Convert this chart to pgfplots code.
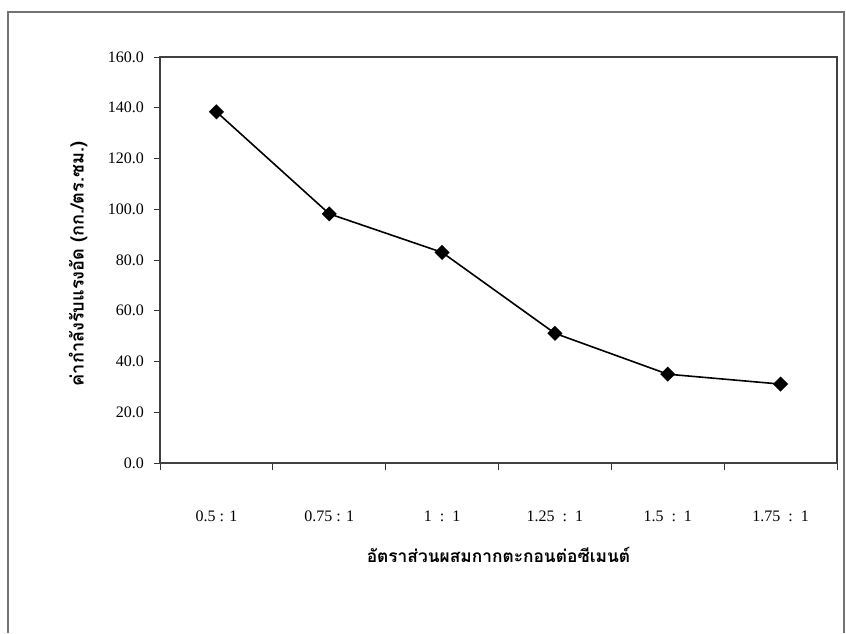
\documentclass[border=0pt]{standalone}
\usepackage{pgfplots}
\pgfplotsset{compat=1.18}
\usepackage{fontspec}
\setmainfont{Liberation Serif}
\newfontfamily\thaifont[Script=Thai]{Loma}
\begin{document}
\begin{tikzpicture}
\useasboundingbox (0,0) rectangle (634.5pt,474.75pt);
\draw[black!55, line width=0.8pt] (6pt,0) -- (6pt,465.75pt) -- (633pt,465.75pt) -- (633pt,0);
\begin{axis}[
  at={(120pt,127.5pt)}, anchor=south west,
  scale only axis, width=507.75pt, height=304.5pt,
  xmin=0.5, xmax=6.5, ymin=0, ymax=160,
  xtick={1,2,3,4,5,6},
  xticklabels={{0.5 : 1},{0.75 : 1},{1~~:~~1},{1.25~~:~~1},{1.5~~:~~1},{1.75~~:~~1}},
  major x tick style={draw=none},
  minor xtick={0.5,1.5,2.5,3.5,4.5,5.5,6.5},
  ytick={0,20,...,160},
  yticklabel={\pgfmathprintnumber[fixed,fixed zerofill,precision=1]{\tick}},
  /pgf/number format/assume math mode=true,
  tick align=outside, tick pos=left,
  major tick length=4.5pt, minor tick length=5.5pt,
  every tick/.style={black!80, line width=0.6pt},
  axis line style={black!75, line width=0.8pt},
  ticklabel style={font=\fontsize{12}{14}\selectfont},
  xticklabel style={yshift=-28pt},
  yticklabel style={xshift=-4pt},
  xlabel={\thaifont\bfseries อัตราส่วนผสมกากตะกอนต่อซีเมนต์},
  ylabel={\thaifont\bfseries ค่ากำลังรับแรงอัด (กก./ตร.ซม.)},
  xlabel style={at={(axis description cs:0.5,-0.227)}, anchor=center, font=\fontsize{13}{15}\selectfont},
  ylabel style={at={(axis description cs:-0.121,0.49)}, anchor=center, rotate=0, font=\fontsize{13.6}{15}\selectfont},
  clip=false,
]
\addplot[black, line width=1.2pt, mark=square*, mark size=3.4pt, mark options={rotate=45, solid, fill=black}]
  coordinates {(1,138.4) (2,98.2) (3,83.0) (4,51.1) (5,35.0) (6,31.1)};
\end{axis}
\end{tikzpicture}
\end{document}
